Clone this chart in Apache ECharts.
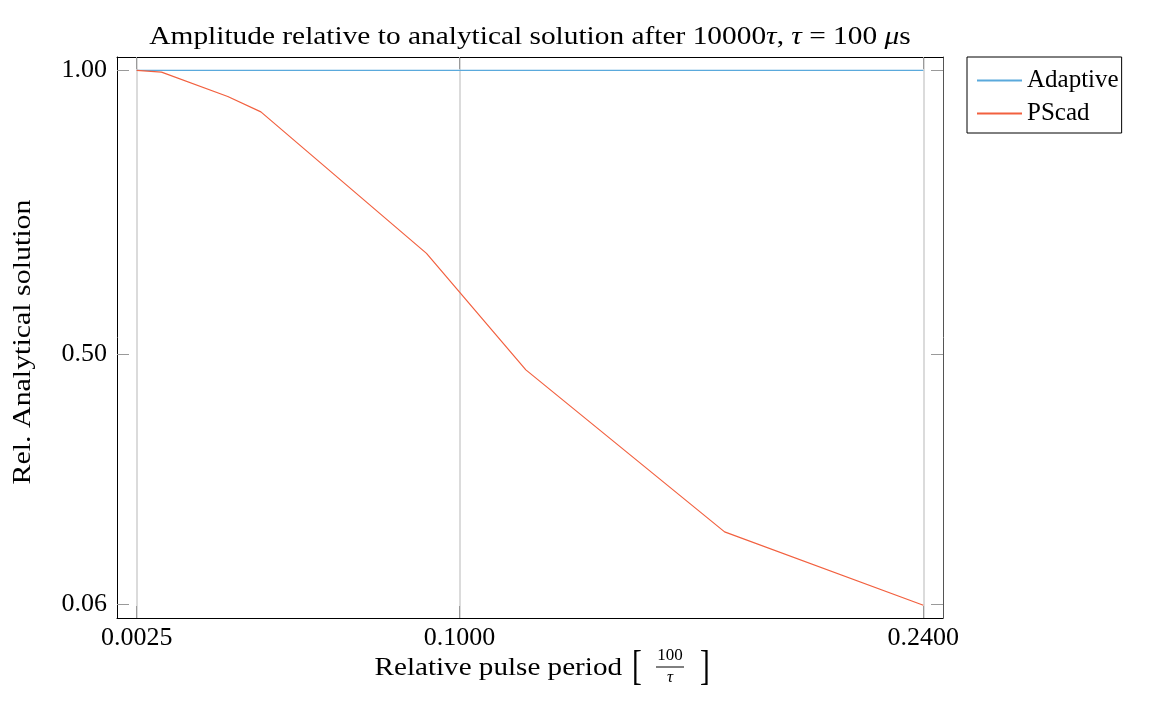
<!DOCTYPE html>
<html>
<head>
<meta charset="utf-8">
<script src="https://cdn.jsdelivr.net/npm/echarts@6/dist/echarts.min.js"></script>
<style>html,body{margin:0;padding:0;background:#fff}#c{width:1152px;height:702px}</style>
</head>
<body>
<div id="c"></div>
<script>
// ---- data ----
const xTicks = [0.0025, 0.1, 0.24];
const yTicks = [0.06, 0.5, 1.0];
const adaptiveX = [0.0025, 0.24];
const adaptiveY = [1.0, 1.0];
const pscadX = [0.0025, 0.01, 0.03, 0.04, 0.09, 0.12, 0.18, 0.24];
const pscadY = [1.0, 0.997, 0.954, 0.927, 0.678, 0.473, 0.188, 0.059];
const seriesNames = ['Adaptive', 'PScad'];
const titleText = 'Amplitude relative to analytical solution after 10000{i|τ}, {i|τ} = 100 {i|μ}s';
const xName = 'Relative pulse period';
const yName = 'Rel. Analytical solution';

// ---- chart ----
const FONT = '"Liberation Serif", "DejaVu Serif", serif';
const FS = 26;
const xMin = 0.0025 - 0.025 * (0.24 - 0.0025);
const xMax = 0.24 + 0.025 * (0.24 - 0.0025);
const yMin = 0.06 - 0.025 * (1.0 - 0.06);
const yMax = 1.0 + 0.025 * (1.0 - 0.06);

const chart = echarts.init(document.getElementById('c'), null, {renderer: 'canvas'});
const tickStyle = {show: true, inside: true, length: 12, lineStyle: {color: '#9a9a9a', width: 1}};

function xAxisDef(pos, showLabel) {
  return {
    type: 'value', position: pos, min: xMin, max: xMax,
    axisLine: {show: true, onZero: false, lineStyle: {color: '#000', width: 1}},
    axisTick: Object.assign({customValues: xTicks}, tickStyle),
    axisLabel: {show: showLabel, customValues: xTicks, formatter: v => v.toFixed(4),
      color: '#000', fontFamily: FONT, fontSize: FS, margin: 7},
    splitLine: {show: showLabel, lineStyle: {color: '#cfcfcf', width: 1.5}}
  };
}
function yAxisDef(pos, showLabel) {
  return {
    type: 'value', position: pos, min: yMin, max: yMax,
    axisLine: {show: true, onZero: false, lineStyle: {color: showLabel ? '#000' : '#555', width: 1}},
    axisTick: Object.assign({customValues: yTicks}, tickStyle),
    axisLabel: {show: showLabel, customValues: yTicks, formatter: v => v.toFixed(2),
      color: '#000', fontFamily: FONT, fontSize: FS, margin: 10, lineHeight: 30, padding: [5, 0, 0, 0]},
    splitLine: {show: false}
  };
}

const option = {
  backgroundColor: '#fff',
  animation: false,
  grid: {left: 117, top: 57, right: 209, bottom: 84, containLabel: false},
  xAxis: [xAxisDef('bottom', true), xAxisDef('top', false)],
  yAxis: [yAxisDef('left', true), yAxisDef('right', false)],
  legend: {
    orient: 'vertical', left: 967, top: 57,
    data: seriesNames,
    icon: 'rect',
    itemWidth: 45, itemHeight: 2, itemGap: 8,
    padding: [11, 3, 7, 10],
    borderColor: '#000', borderWidth: 1, borderRadius: 0,
    textStyle: {fontFamily: FONT, fontSize: 25, color: '#000'}
  },
  series: [
    {name: seriesNames[0], type: 'line', symbol: 'none', color: '#5aa9dc',
     lineStyle: {width: 1.2, color: '#5aa9dc'},
     data: adaptiveX.map((x, i) => [x, adaptiveY[i]])},
    {name: seriesNames[1], type: 'line', symbol: 'none', color: '#f2603f',
     lineStyle: {width: 1.2, color: '#f2603f'},
     data: pscadX.map((x, i) => [x, pscadY[i]])}
  ],
  graphic: [
    {type: 'text', x: 530, y: 37, scaleX: 1.13, style: {text: titleText, fontFamily: FONT, fontSize: FS, fill: '#000',
      align: 'center', verticalAlign: 'middle', rich: {i: {fontStyle: 'italic', fontFamily: FONT, fontSize: FS}}}},
    {type: 'text', x: 23, y: 342, rotation: Math.PI / 2, scaleX: 1.15, style: {text: yName, fontFamily: FONT, fontSize: FS, fill: '#000',
      align: 'center', verticalAlign: 'middle'}},
    {type: 'text', x: 622, y: 668, scaleX: 1.12, style: {text: xName, fontFamily: FONT, fontSize: FS, fill: '#000',
      align: 'right', verticalAlign: 'middle'}},
    {type: 'text', x: 632, y: 668, scaleX: 0.7, style: {text: '[', fontFamily: FONT, fontSize: 42, fill: '#000',
      align: 'left', verticalAlign: 'middle'}},
    {type: 'text', x: 670, y: 656, style: {text: '100', fontFamily: FONT, fontSize: 17, fill: '#000',
      align: 'center', verticalAlign: 'middle'}},
    {type: 'line', shape: {x1: 656, y1: 667, x2: 684, y2: 667}, style: {stroke: '#000', lineWidth: 1}},
    {type: 'text', x: 670, y: 678, style: {text: 'τ', fontFamily: FONT, fontSize: 17, fontStyle: 'italic', fill: '#000',
      align: 'center', verticalAlign: 'middle'}},
    {type: 'text', x: 700, y: 668, scaleX: 0.7, style: {text: ']', fontFamily: FONT, fontSize: 42, fill: '#000',
      align: 'left', verticalAlign: 'middle'}}
  ]
};
chart.setOption(option);
</script>
</body>
</html>
